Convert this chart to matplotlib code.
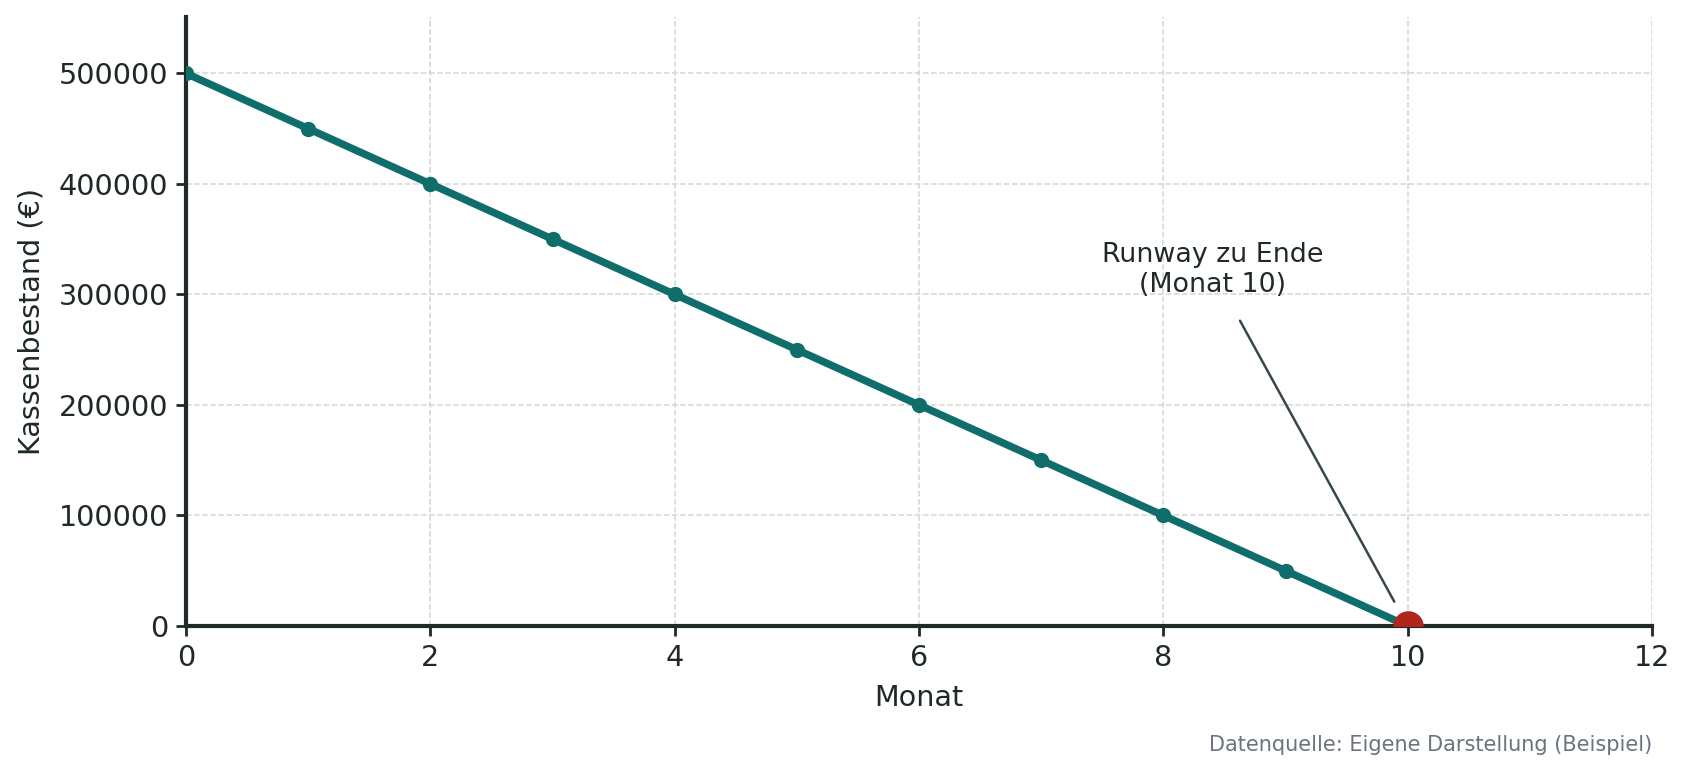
import matplotlib
matplotlib.use("Agg")
import matplotlib.pyplot as plt

months = [0, 1, 2, 3, 4, 5, 6, 7, 8, 9, 10]
cash = [500000, 450000, 400000, 350000, 300000, 250000, 200000, 150000, 100000, 50000, 0]
end_month = 10
end_cash = 0
xticks = [0, 2, 4, 6, 8, 10, 12]
yticks = [0, 100000, 200000, 300000, 400000, 500000]

teal = "#0f6e6c"
red = "#b0261e"
dark = "#1f2a28"

plt.rcParams['font.family'] = ['DejaVu Sans']
fig = plt.figure(figsize=(1689/200, 777/200), dpi=200)
ax = fig.add_axes([186/1689, 1 - 626/777, (1652-186)/1689, (626-17)/777])

ax.plot(months, cash, color=teal, lw=2.7, marker='o', markersize=4.5, zorder=3)
ax.plot([end_month], [end_cash], 'o', color=red, markersize=10, zorder=4)

ax.set_xlim(0, 12)
ax.set_ylim(0, 551000)
ax.set_xticks(xticks)
ax.set_yticks(yticks)
ax.set_yticklabels([str(v) for v in yticks])

ax.grid(True, linestyle='--', color='#d4d4d4', linewidth=0.55)
ax.set_axisbelow(True)

for s in ['top', 'right']:
    ax.spines[s].set_visible(False)
for s in ['left', 'bottom']:
    ax.spines[s].set_color(dark)
    ax.spines[s].set_linewidth(1.5)

ax.tick_params(axis='both', colors=dark, labelsize=10.3, width=1.0, length=3.5, pad=2.8, labelcolor=dark)
ax.set_xlabel("Monat", fontsize=10.3, color=dark, labelpad=4.5)
ax.set_ylabel("Kassenbestand (€)", fontsize=10.3, color=dark, labelpad=5)

ax.annotate("Runway zu Ende\n(Monat 10)", xy=(end_month, end_cash), xytext=(8.4, 322000),
            ha='center', va='center', fontsize=9.7, color=dark,
            arrowprops=dict(arrowstyle='-', color='#37474f', lw=0.9, shrinkA=7, shrinkB=10))

fig.text(1652/1689, 1 - 745/777, "Datenquelle: Eigene Darstellung (Beispiel)", ha='right', va='center',
         fontsize=7.5, color='#6b7280')

fig.savefig("out.png", dpi=200)
